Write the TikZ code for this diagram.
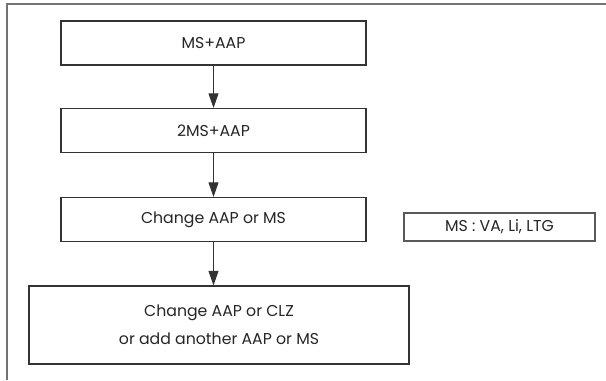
\documentclass[tikz,border=0pt]{standalone}
\usepackage{fontspec}
\setmainfont{Poppins}
\usetikzlibrary{arrows.meta}

\tikzset{
  stepbox/.style={draw=black!80, line width=0.8pt, fill=white, inner sep=0pt,
    align=center, text=black!85, font=\fontsize{11.8}{21}\selectfont},
  flow/.style={draw=black!80, line width=0.8pt, -{Triangle[length=11pt,width=7.5pt]}}
}

\begin{document}
\begin{tikzpicture}[x=0.75pt,y=0.75pt,yscale=-1,xscale=1]
\useasboundingbox (0,0) rectangle (606,380);

%Outer frame
\draw [draw=black!55, line width=1pt] (606,4) -- (7,4) -- (7,380) ;

%Steps
\node [stepbox, minimum width=228.75pt, minimum height=33pt] (ms) at (213.5,43) {MS+AAP};
\node [stepbox, minimum width=228.75pt, minimum height=33pt] (twoms) at (213.5,130.5) {2MS+AAP};
\node [stepbox, minimum width=228.75pt, minimum height=33pt] (change) at (213.5,219.5) {Change AAP or MS};
\node [stepbox, minimum width=285pt, minimum height=58.5pt] (last) at (219,325) {Change AAP or CLZ\\or add another AAP or MS};

% Text Node
\node [stepbox, draw=black!65, minimum width=143.25pt, minimum height=21pt] (note) at (499.5,227) {MS : VA, Li, LTG};

%Arrows
\draw [flow] (ms.south -| 213.5,0) -- (twoms.north -| 213.5,0) ;
\draw [flow] (twoms.south -| 213.5,0) -- (change.north -| 213.5,0) ;
\draw [flow] (change.south -| 213.5,0) -- (last.north -| 213.5,0) ;

\end{tikzpicture}
\end{document}
